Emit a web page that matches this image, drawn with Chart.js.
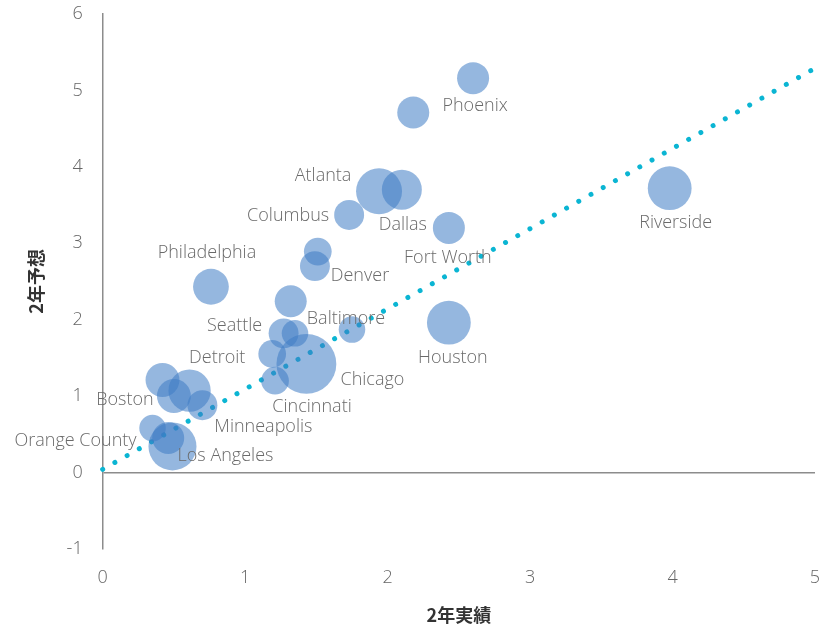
<!DOCTYPE html>
<html>
<head>
<meta charset="utf-8">
<script src="https://cdn.jsdelivr.net/npm/chart.js@4.4.1/dist/chart.umd.min.js"></script>
<style>
body{margin:0;background:#fff}
#wrap{width:832px;height:628px}
</style>
</head>
<body>
<div id="wrap"><canvas id="myChart" width="832" height="628"></canvas></div>
<script>
// cities ('' = bubble without a label)
const cities = ['Phoenix','','Atlanta','Dallas','Riverside','Columbus','Fort Worth','','Denver',
	'Philadelphia','','Houston','Seattle','','Baltimore','Detroit','Chicago','Cincinnati','',
	'','Boston','Minneapolis','Orange County','','Los Angeles'];
// 2年実績
const actual = [2.60,2.18,1.94,2.10,3.98,1.73,2.43,1.51,1.49,
	0.76,1.32,2.43,1.27,1.35,1.75,1.19,1.43,1.21,0.42,
	0.61,0.50,0.70,0.35,0.46,0.49];
// 2年予想
const forecast = [5.16,4.71,3.68,3.70,3.72,3.37,3.20,2.89,2.70,
	2.43,2.24,1.96,1.82,1.82,1.87,1.55,1.42,1.20,1.21,
	1.07,1.00,0.88,0.58,0.45,0.34];
// bubble size (relative)
const sizes = [16,16,33,25,30,14,16,12,14,
	20,16,30,14,11,11,12,56,12,18,
	28,18,14,11,16,36];
const trendX = [0, 5];
const trendY = [0.04, 5.29];

// label placement relative to bubble centre (px)
const labelOffset = [[2,28],[0,0],[-56,-15],[1,35],[6,35],[-61,1],[-1,30],[0,0],[45,10],
	[-4,-34],[0,0],[4,35],[-49,-7],[0,0],[-6,-11],[-55,4],[66,16],[37,26],[0,0],
	[0,0],[-49,4],[61,22],[-77,13],[0,0],[53,9]];

const bubbles = [];
for (let i=0;i<actual.length;i++){
	bubbles.push({x: actual[i], y: forecast[i], r: 4*Math.sqrt(sizes[i]), name: cities[i], off: labelOffset[i]});
}
const trend = trendX.map((x,i)=>({x: x, y: trendY[i]}));

const cityLabels = {
	id: 'cityLabels',
	afterDatasetsDraw(chart){
		const ctx = chart.ctx;
		const meta = chart.getDatasetMeta(1);
		ctx.save();
		ctx.font = '300 18px "Open Sans", sans-serif';
		ctx.fillStyle = '#6a6a6a';
		ctx.textAlign = 'center';
		ctx.textBaseline = 'middle';
		meta.data.forEach(function(pt, i){
			const b = bubbles[i];
			if (!b.name) return;
			ctx.fillText(b.name, pt.x + b.off[0], pt.y + b.off[1]);
		});
		ctx.restore();
	}
};

const tickFont = {family: '"Open Sans", sans-serif', size: 18, weight: 300};
const titleFont = {family: '"Noto Sans CJK JP", sans-serif', size: 18, weight: 'bold'};

const ctx = document.getElementById('myChart').getContext('2d');
const myChart = new Chart(ctx, {
	data: {
		datasets: [{
			type: 'line',
			data: trend,
			borderColor: '#0bb5d3',
			borderWidth: 5,
			borderDash: [0.01, 14.0],
			borderCapStyle: 'round',
			pointRadius: 0,
			fill: false,
			clip: false,
			order: 2
		}, {
			type: 'bubble',
			data: bubbles,
			backgroundColor: 'rgba(62,124,196,0.55)',
			borderWidth: 0,
			hoverBorderWidth: 0,
			clip: false,
			order: 1
		}]
	},
	options: {
		responsive: false,
		animation: false,
		layout: {autoPadding: false, padding: {top: 14, right: 17, left: 25, bottom: 2}},
		plugins: {legend: {display: false}, tooltip: {enabled: false}},
		scales: {
			x: {
				type: 'linear',
				min: 0, max: 5,
				afterFit: function(s){ s.paddingLeft = 0; s.paddingRight = 0; },
				ticks: {stepSize: 1, color: '#666', font: tickFont, padding: 18},
				grid: {display: false, drawTicks: false},
				border: {display: false},
				title: {display: true, text: '2年実績', color: '#333', font: titleFont, padding: {top: -2, bottom: 0}}
			},
			y: {
				min: -1, max: 6,
				afterFit: function(s){ s.paddingTop = 0; s.paddingBottom = 0; },
				ticks: {stepSize: 1, color: '#666', font: tickFont, padding: 20},
				grid: {
					drawTicks: false,
					lineWidth: 1.5,
					color: function(c){ return c.tick && c.tick.value === 0 ? '#8c8c8c' : 'rgba(0,0,0,0)'; }
				},
				border: {display: true, color: '#8c8c8c', width: 1.5},
				title: {display: true, text: '2年予想', color: '#333', font: titleFont, padding: {top: 0, bottom: 0}}
			}
		}
	},
	plugins: [cityLabels]
});
</script>
</body>
</html>
